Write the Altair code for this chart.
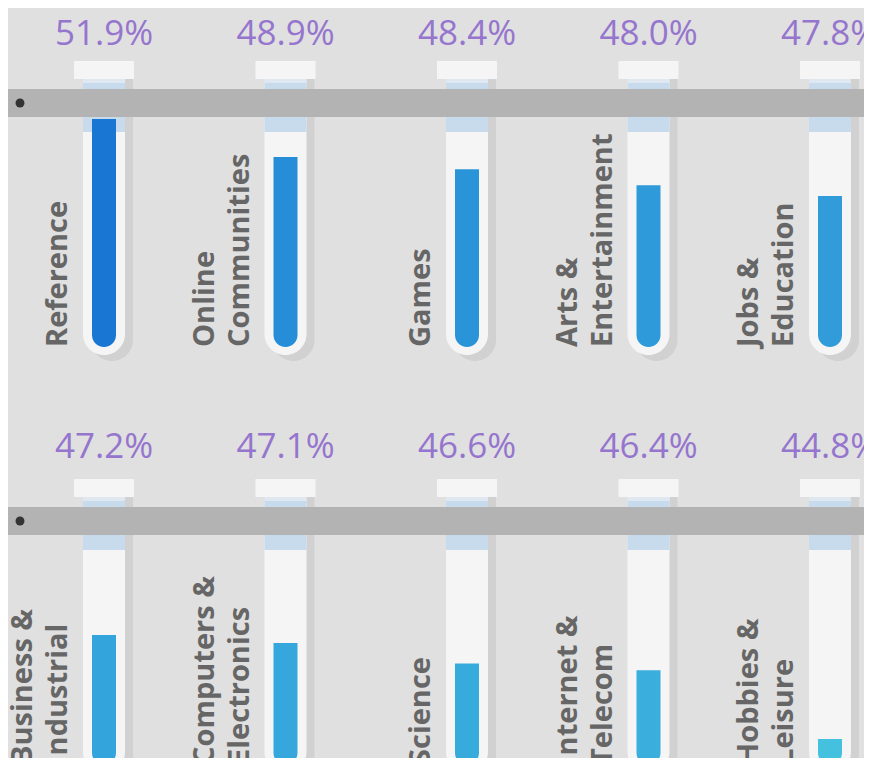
import altair as alt
import pandas as pd

categories = ["Reference", "Online Communities", "Games", "Arts & Entertainment", "Jobs & Education",
              "Business & Industrial", "Computers & Electronics", "Science", "Internet & Telecom",
              "Hobbies & Leisure"]
label_top = ["", "Online", "", "Arts &", "Jobs &", "Business &", "Computers &", "", "Internet &", "Hobbies &"]
label_bottom = ["Reference", "Communities", "Games", "Entertainment", "Education", "Industrial",
                "Electronics", "Science", "Telecom", "Leisure"]
shares = [51.9, 48.9, 48.4, 48.0, 47.8, 47.2, 47.1, 46.6, 46.4, 44.8]
fill_levels = [85.1, 70.9, 66.3, 60.4, 56.3, 48.5, 45.5, 37.9, 35.4, 9.7]
rows = [0, 0, 0, 0, 0, 1, 1, 1, 1, 1]
cols = [0, 1, 2, 3, 4, 0, 1, 2, 3, 4]

palette = ["#1976d2", "#268ed8", "#2a94d9", "#2e9ad9", "#329cdb",
           "#34a5dc", "#35a7dc", "#38abdd", "#3aaedd", "#45c1e0"]

data = pd.DataFrame({
    "category": categories,
    "top": label_top,
    "bottom": label_bottom,
    "share": shares,
    "level": fill_levels,
    "row": rows,
    "col": cols,
})

FONT = "Open Sans"
xs = alt.Scale(domain=[0, 4], range=[96, 822])
X = alt.X("col:Q", scale=xs, axis=None)
X2 = alt.X2("col")
ys = alt.Scale(domain=[0, 100], range=[339, 71])


def make_row(r, pct_y, h):
    df = data[data["row"] == r]
    base = alt.Chart(df)
    one = alt.Chart(pd.DataFrame({"k": [0]}))

    shadow = base.mark_rect(color="#d1d1d1", xOffset=-13, x2Offset=29, clip=True,
                            cornerRadiusBottomLeft=21, cornerRadiusBottomRight=21).encode(
        x=X, x2=X2, y=alt.value(71), y2=alt.value(353))
    tube = base.mark_rect(color="#f5f5f5", xOffset=-21, x2Offset=21, clip=True,
                          cornerRadiusBottomLeft=21, cornerRadiusBottomRight=21).encode(
        x=X, x2=X2, y=alt.value(71), y2=alt.value(347))
    band = base.mark_rect(color="#c8dbec", xOffset=-21, x2Offset=21, clip=True).encode(
        x=X, x2=X2, y=alt.value(71), y2=alt.value(124))
    strip = base.mark_rect(color="#dfe7f0", xOffset=-21, x2Offset=21, clip=True).encode(
        x=X, x2=X2, y=alt.value(71), y2=alt.value(75))
    fill = base.mark_rect(xOffset=-12, x2Offset=12, clip=True,
                          cornerRadiusBottomLeft=12, cornerRadiusBottomRight=12).encode(
        x=X, x2=X2,
        y=alt.Y("level:Q", scale=ys, axis=None),
        y2=alt.value(339),
        color=alt.Color("category:N", scale=alt.Scale(domain=categories, range=palette), legend=None),
    )
    rack = one.mark_rect(color="#b3b3b3", clip=True).encode(
        x=alt.value(0), x2=alt.value(856), y=alt.value(81), y2=alt.value(109))
    dot = one.mark_circle(color="#333333", opacity=1, size=80, clip=True).encode(
        x=alt.value(12), y=alt.value(95))
    cap = base.mark_rect(color="#f5f5f5", xOffset=-30, x2Offset=30, clip=True).encode(
        x=X, x2=X2, y=alt.value(53), y2=alt.value(71))
    pct = base.transform_calculate(
        pct="format(datum.share, '.1f') + '%'"
    ).mark_text(font=FONT, fontSize=35, color="#9575cd", align="center",
                baseline="alphabetic", clip=True).encode(
        x=X, y=alt.value(pct_y), text="pct:N")
    lab_bottom = base.mark_text(font=FONT, fontSize=29, fontWeight="bold", color="#666666",
                                angle=270, align="left", baseline="alphabetic", dy=-37,
                                clip=True).encode(
        x=X, y=alt.value(339), text="bottom:N")
    lab_top = base.mark_text(font=FONT, fontSize=29, fontWeight="bold", color="#666666",
                             angle=270, align="left", baseline="alphabetic", dy=-72,
                             clip=True).encode(
        x=X, y=alt.value(339), text="top:N")

    return alt.layer(shadow, tube, band, strip, fill, rack, dot, cap, pct,
                     lab_bottom, lab_top).properties(width=856, height=h)


chart = alt.vconcat(
    make_row(0, 37, 418),
    make_row(1, 32, 332),
    spacing=0,
    bounds="flush",
).configure(
    background="#e0e0e0",
    padding=0,
).configure_view(stroke=None)

chart.save("out.html", embed_options={"renderer": "svg", "actions": False})
